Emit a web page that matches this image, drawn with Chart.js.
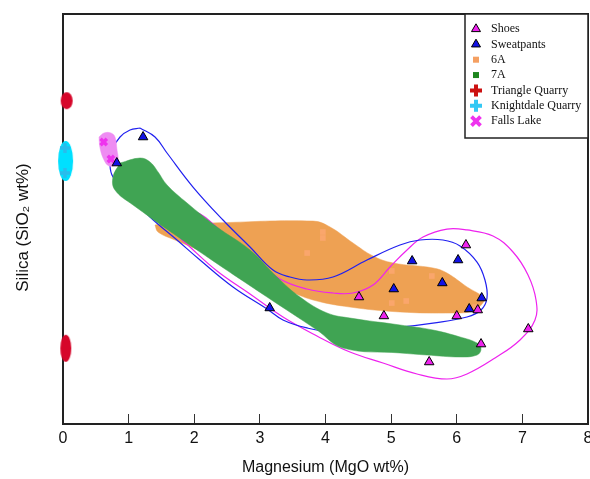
<!DOCTYPE html>
<html>
<head>
<meta charset="utf-8">
<script src="https://cdn.jsdelivr.net/npm/chart.js@4/dist/chart.umd.min.js"></script>
<style>
  html, body { margin: 0; padding: 0; background: #fff; }
  #wrap { width: 590px; height: 479px; }
</style>
</head>
<body>
<div id="wrap"><canvas id="c" width="590" height="479"></canvas></div>
<script>
// ---------- DATA (MgO wt% on x, SiO2 wt% on y) ----------
const seriesNames = ['Shoes', 'Sweatpants', '6A', '7A', 'Triangle Quarry', 'Knightdale Quarry', 'Falls Lake'];
const xTicks = [0, 1, 2, 3, 4, 5, 6, 7, 8];

const shoesMgO  = [4.51, 4.89, 5.58, 6.00, 6.14, 6.32, 6.37, 7.09];
const shoesSiO2 = [52.39, 50.54, 46.05, 50.54, 57.46, 51.12, 47.80, 49.27];

const sweatMgO  = [1.22, 0.82, 3.15, 5.32, 6.02, 5.04, 5.78, 6.38, 6.19];
const sweatSiO2 = [68.00, 65.46, 51.32, 55.90, 56.00, 53.17, 53.76, 52.29, 51.22];

const a6MgO  = [3.96, 3.96, 3.72, 5.01, 5.62, 5.01, 5.23, 6.28];
const a6SiO2 = [58.73, 58.15, 56.68, 54.93, 54.44, 51.80, 52.00, 51.41];

const triQuarryMgO  = [0.056, 0.042];
const triQuarrySiO2 = [71.54, 47.39];

const knightMgO  = [0.03, 0.03];
const knightSiO2 = [66.93, 64.49];
const knightCenterMgO  = [0.04];
const knightCenterSiO2 = [65.66];

const fallsMgO  = [0.62, 0.73];
const fallsSiO2 = [67.51, 65.85];

// field outlines
const field6AMgO  = [1.402, 1.585, 2.194, 3.810, 4.069, 4.419, 4.724, 5.029, 5.638, 5.851, 6.156, 6.415, 6.385, 6.248, 5.943, 5.135, 4.373, 3.810, 3.413, 2.850, 2.240, 1.707, 1.448, 1.402];
const field6ASiO2 = [59.41, 59.61, 59.61, 59.80, 59.22, 57.66, 56.39, 55.71, 55.22, 54.73, 53.37, 52.29, 51.71, 51.02, 50.83, 50.93, 51.41, 52.10, 53.07, 54.54, 56.49, 57.95, 58.73, 59.41];

const field7AMgO  = [0.869, 1.173, 1.326, 1.448, 1.585, 1.890, 2.347, 2.850, 3.261, 3.611, 4.023, 4.373, 5.135, 5.638, 6.050, 6.309, 6.370, 6.309, 6.050, 5.547, 5.135, 4.267, 3.870, 3.109, 2.088, 1.067, 0.792, 0.762, 0.869];
const field7ASiO2 = [65.46, 65.95, 65.56, 64.59, 63.32, 61.56, 59.22, 56.98, 54.34, 52.39, 50.83, 50.34, 49.66, 49.17, 48.49, 47.90, 47.32, 46.73, 46.54, 46.73, 46.93, 47.41, 49.17, 52.39, 56.78, 61.37, 62.83, 64.10, 65.46];

const sweatEnvMgO  = [1.173, 1.402, 1.585, 1.981, 2.438, 2.850, 3.200, 3.459, 3.718, 4.114, 4.632, 5.135, 5.440, 5.790, 6.050, 6.309, 6.430, 6.461, 6.370, 6.156, 5.638, 5.135, 4.632, 4.114, 3.718, 3.352, 3.109, 2.590, 2.088, 1.737, 1.326, 0.975, 0.762, 0.716, 0.747, 0.869, 1.021, 1.173];
const sweatEnvSiO2 = [68.88, 68.00, 66.44, 63.12, 59.90, 57.27, 55.02, 54.34, 54.05, 54.34, 56.00, 57.46, 57.95, 57.95, 57.37, 55.80, 54.05, 52.29, 51.12, 50.44, 49.85, 49.46, 49.27, 48.98, 49.37, 50.15, 51.22, 53.37, 56.00, 57.95, 60.20, 62.54, 64.10, 65.27, 66.73, 68.00, 68.68, 68.88];

const shoesEnvMgO  = [1.752, 1.966, 2.499, 2.895, 3.307, 3.718, 4.114, 4.419, 4.724, 4.983, 5.242, 5.486, 5.851, 6.156, 6.552, 6.857, 7.086, 7.208, 7.192, 6.964, 6.583, 6.156, 5.851, 5.394, 4.876, 4.373, 3.870, 3.352, 2.850, 2.347, 1.935, 1.752, 1.752];
const shoesEnvSiO2 = [59.32, 60.78, 58.34, 56.29, 54.15, 53.17, 52.78, 52.78, 53.56, 55.32, 56.98, 58.24, 59.02, 58.93, 58.34, 56.78, 54.54, 52.10, 50.15, 48.20, 46.44, 44.88, 44.39, 44.88, 45.95, 47.02, 48.59, 50.44, 52.68, 54.93, 57.27, 58.44, 59.32];

const fallsFieldMgO  = [0.549, 0.625, 0.731, 0.792, 0.823, 0.838, 0.792, 0.701, 0.625, 0.564, 0.549];
const fallsFieldSiO2 = [68.00, 68.39, 68.39, 68.00, 66.73, 65.76, 65.27, 65.17, 65.76, 66.93, 68.00];

// ---------- helpers ----------
const zip = (xs, ys) => xs.map((x, i) => ({ x: x, y: ys[i] }));

function ellipseImage(w, h, color) {
  const c = document.createElement('canvas');
  c.width = w + 2; c.height = h + 2;
  const g = c.getContext('2d');
  g.fillStyle = color;
  g.beginPath();
  g.ellipse((w + 2) / 2, (h + 2) / 2, w / 2, h / 2, 0, 0, Math.PI * 2);
  g.fill();
  return c;
}

const C = {
  shoes: '#EE22EE', sweat: '#1212E6', field6A: '#EEA153', pts6A: '#FAA66C',
  field7A: '#40A453', leg7A: '#1E861E', red: '#D6062A', legRed: '#CC1111',
  cyan: '#00E0FF', cyanPts: '#29BCEC', legCyan: '#33C8F4', falls: '#EE33EE',
  fallsField: '#EE8CF2', blueLine: '#2020F0', pinkLine: '#EE22EE'
};

const lineShape = (label, data, color) => ({
  type: 'line', label, data, showLine: true, fill: 'shape',
  backgroundColor: color, borderColor: color, borderWidth: 0.5,
  pointRadius: 0, tension: 0.4
});
const outline = (label, data, color) => ({
  type: 'line', label, data, showLine: true, fill: false,
  borderColor: color, borderWidth: 1.2, pointRadius: 0, tension: 0.4
});

const datasets = [
  { label: seriesNames[0], data: zip(shoesMgO, shoesSiO2), showLine: false, pointStyle: 'triangle',
    pointRadius: 5.5, backgroundColor: C.shoes, borderColor: '#000', borderWidth: 1 },
  { label: seriesNames[1], data: zip(sweatMgO, sweatSiO2), showLine: false, pointStyle: 'triangle',
    pointRadius: 5.5, backgroundColor: C.sweat, borderColor: '#000', borderWidth: 1 },
  { label: seriesNames[4], data: zip(triQuarryMgO, triQuarrySiO2), showLine: false, clip: false,
    pointStyle: [ellipseImage(12, 17, C.red), ellipseImage(11, 27, C.red)], pointRadius: 6,
    backgroundColor: C.red, borderColor: C.red },
  { label: seriesNames[5] + ' points', data: zip(knightMgO, knightSiO2), showLine: false, clip: false,
    pointStyle: 'cross', pointRadius: 5, borderWidth: 3.5, borderColor: C.cyanPts, backgroundColor: C.cyanPts },
  { label: seriesNames[5], data: zip(knightCenterMgO, knightCenterSiO2), showLine: false, clip: false,
    pointStyle: ellipseImage(15, 40, C.cyan), pointRadius: 6, backgroundColor: C.cyan, borderColor: C.cyan },
  { label: seriesNames[6], data: zip(fallsMgO, fallsSiO2), showLine: false,
    pointStyle: 'crossRot', pointRadius: 4.5, borderWidth: 3.5, borderColor: C.falls, backgroundColor: C.falls },
  lineShape(seriesNames[6] + ' field', zip(fallsFieldMgO, fallsFieldSiO2), C.fallsField),
  lineShape(seriesNames[3], zip(field7AMgO, field7ASiO2), C.field7A),
  outline(seriesNames[1] + ' envelope', zip(sweatEnvMgO, sweatEnvSiO2), C.blueLine),
  outline(seriesNames[0] + ' envelope', zip(shoesEnvMgO, shoesEnvSiO2), C.pinkLine),
  { label: seriesNames[2], data: zip(a6MgO, a6SiO2), showLine: false, pointStyle: 'rect',
    pointRadius: 4, borderWidth: 0, backgroundColor: C.pts6A, borderColor: C.pts6A },
  lineShape(seriesNames[2] + ' field', zip(field6AMgO, field6ASiO2), C.field6A)
];

// legend description
const legendMarkers = [
  { shape: 'triangle', color: C.shoes },
  { shape: 'triangle', color: C.sweat },
  { shape: 'square', color: '#F5A062' },
  { shape: 'square', color: C.leg7A },
  { shape: 'plus', color: C.legRed },
  { shape: 'plus', color: C.legCyan },
  { shape: 'x', color: C.falls }
];

function drawMarker(ctx, m, x, y) {
  ctx.save();
  if (m.shape === 'triangle') {
    const r = 5.2;
    ctx.beginPath();
    ctx.moveTo(x, y - r);
    ctx.lineTo(x + r * 0.866, y + r / 2);
    ctx.lineTo(x - r * 0.866, y + r / 2);
    ctx.closePath();
    ctx.fillStyle = m.color; ctx.fill();
    ctx.strokeStyle = '#000'; ctx.lineWidth = 1; ctx.stroke();
  } else if (m.shape === 'square') {
    ctx.fillStyle = m.color; ctx.fillRect(x - 3, y - 3, 6, 6);
  } else if (m.shape === 'plus') {
    ctx.strokeStyle = m.color; ctx.lineWidth = 4;
    ctx.beginPath();
    ctx.moveTo(x - 6, y); ctx.lineTo(x + 6, y);
    ctx.moveTo(x, y - 6); ctx.lineTo(x, y + 6);
    ctx.stroke();
  } else if (m.shape === 'x') {
    ctx.strokeStyle = m.color; ctx.lineWidth = 3.8;
    ctx.beginPath();
    ctx.moveTo(x - 4.5, y - 4.5); ctx.lineTo(x + 4.5, y + 4.5);
    ctx.moveTo(x + 4.5, y - 4.5); ctx.lineTo(x - 4.5, y + 4.5);
    ctx.stroke();
  }
  ctx.restore();
}

const framePlugin = {
  id: 'frame',
  beforeDatasetsDraw(chart) {
    const { ctx, chartArea: a } = chart;
    ctx.save();
    ctx.strokeStyle = '#222';
    ctx.lineWidth = 2;
    ctx.strokeRect(a.left, a.top, a.right - a.left, a.bottom - a.top);
    ctx.restore();
  }
};

const boxLegend = {
  id: 'boxLegend',
  afterDatasetsDraw(chart) {
    const { ctx, chartArea: a } = chart;
    const w = 123, h = 124;
    const x0 = a.right - w, y0 = a.top;
    ctx.save();
    ctx.fillStyle = '#fff';
    ctx.fillRect(x0, y0, w, h);
    ctx.strokeStyle = '#222';
    ctx.lineWidth = 1.5;
    ctx.strokeRect(x0, y0, w, h);
    ctx.font = '12px "Liberation Serif", "Times New Roman", serif';
    ctx.textBaseline = 'middle';
    ctx.textAlign = 'left';
    seriesNames.forEach((name, i) => {
      const cy = y0 + 15 + i * 15.35;
      drawMarker(ctx, legendMarkers[i], x0 + 11, cy);
      ctx.fillStyle = '#111';
      ctx.fillText(name, x0 + 26, cy);
    });
    ctx.restore();
  }
};

new Chart(document.getElementById('c'), {
  type: 'scatter',
  data: { datasets },
  options: {
    responsive: false,
    animation: false,
    events: [],
    layout: { autoPadding: false, padding: { top: 14, right: 2, left: 0, bottom: 0 } },
    plugins: { legend: { display: false }, tooltip: { enabled: false } },
    scales: {
      x: {
        type: 'linear', min: xTicks[0], max: xTicks[xTicks.length - 1],
        afterBuildTicks: (s) => { s.ticks = xTicks.map(v => ({ value: v })); },
        afterFit: (s) => { s.height = 55; s.paddingLeft = 0; s.paddingRight = 0; },
        border: { display: false },
        grid: { drawOnChartArea: false, drawTicks: true, tickLength: -10, color: '#333', lineWidth: 1 },
        ticks: { color: '#111', padding: 15, maxRotation: 0, autoSkip: false,
                 font: { family: '"Liberation Sans", Arial, sans-serif', size: 16 } },
        title: { display: true, text: 'Magnesium (MgO wt%)', color: '#111',
                 padding: { top: 0, bottom: 2 },
                 font: { family: '"Liberation Sans", Arial, sans-serif', size: 16 } }
      },
      y: {
        type: 'linear', min: 40, max: 80,
        afterFit: (s) => { s.width = 63; s.paddingTop = 0; s.paddingBottom = 0; },
        border: { display: false },
        grid: { display: false },
        ticks: { display: false },
        title: { display: true, text: 'Silica (SiO\u2082 wt%)\u2002\u2002', color: '#111',
                 padding: { top: 13, bottom: 0 },
                 font: { family: '"Liberation Sans", Arial, sans-serif', size: 17 } }
      }
    }
  },
  plugins: [framePlugin, boxLegend]
});
</script>
</body>
</html>
